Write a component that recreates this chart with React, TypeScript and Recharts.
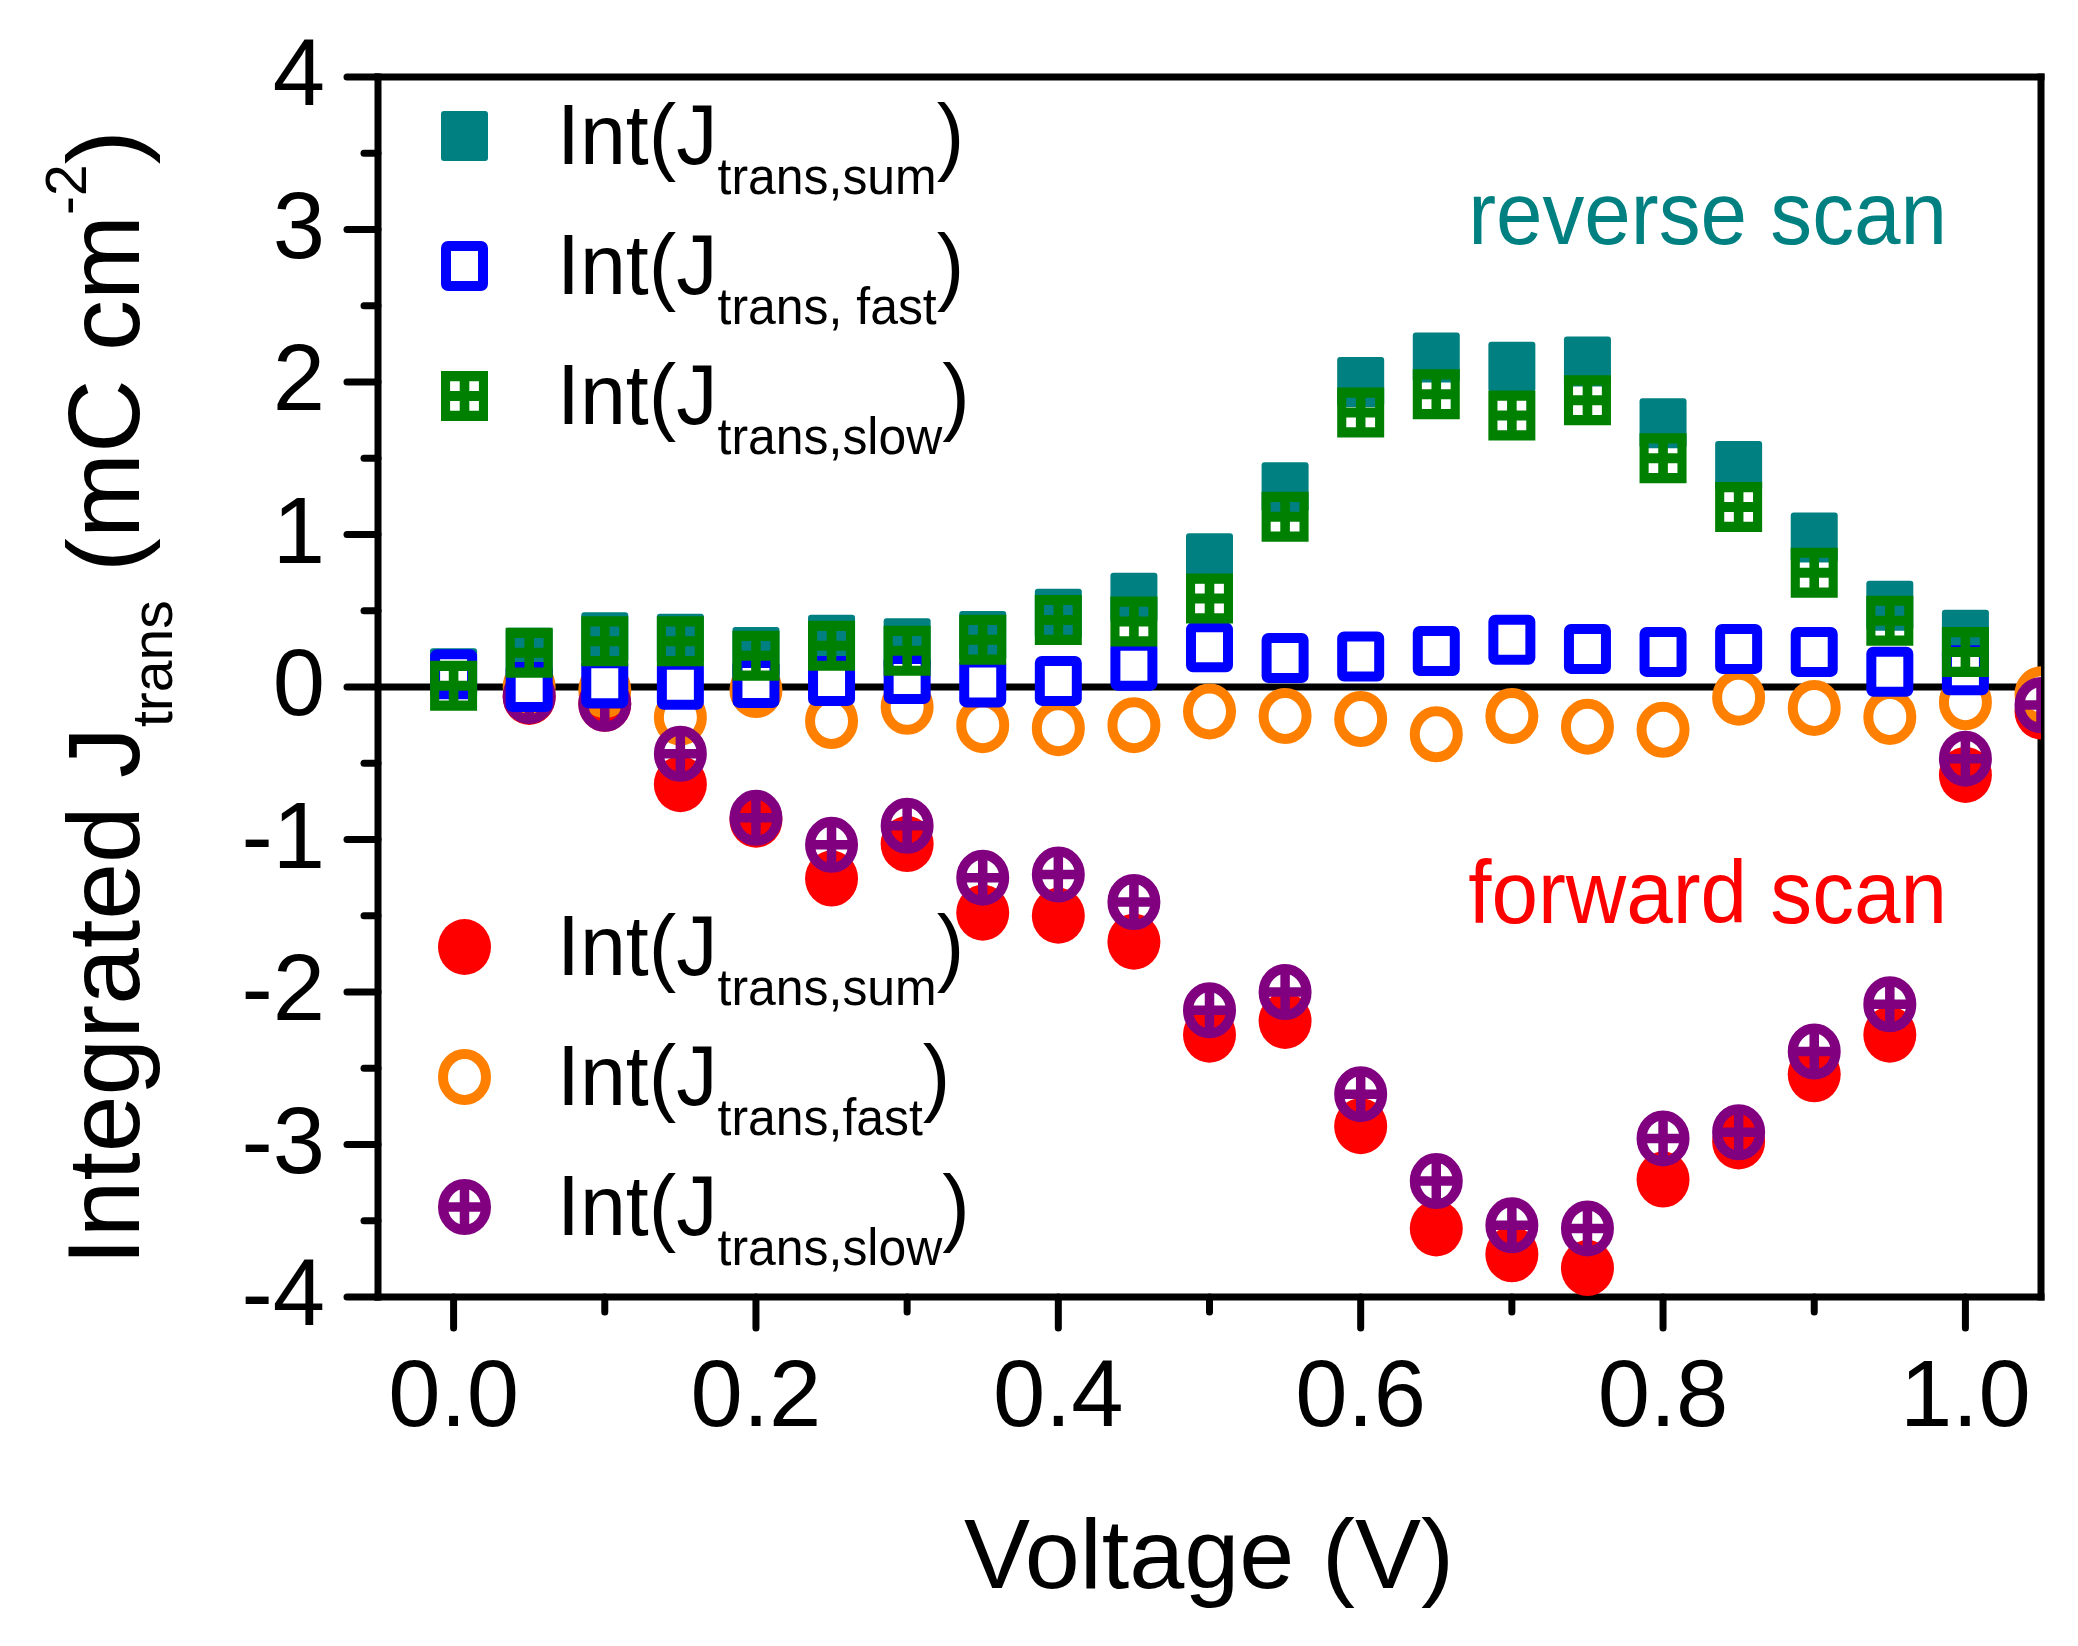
import React from 'react';
import { ScatterChart, Scatter, XAxis, YAxis, ReferenceLine, Customized } from 'recharts';

const FONT = "'Liberation Sans', Arial, Helvetica, sans-serif";

// ---------- data ----------
const reverseVoltage = [0, 0.05, 0.1, 0.15, 0.2, 0.25, 0.3, 0.35, 0.4, 0.45, 0.5, 0.55, 0.6, 0.65, 0.7, 0.75, 0.8, 0.85, 0.9, 0.95, 1.0];
const reverseSum = [0.09, 0.225, 0.327, 0.316, 0.23, 0.31, 0.287, 0.334, 0.48, 0.586, 0.844, 1.31, 2.0, 2.16, 2.1, 2.135, 1.73, 1.45, 0.98, 0.532, 0.342];
const reverseFast = [0.084, 0.0, 0.025, 0.015, 0.026, 0.04, 0.052, 0.03, 0.04, 0.14, 0.26, 0.19, 0.2, 0.236, 0.31, 0.25, 0.23, 0.25, 0.23, 0.1, 0.11];
const reverseSlow = [0.008, 0.225, 0.3, 0.3, 0.205, 0.27, 0.237, 0.31, 0.44, 0.43, 0.58, 1.116, 1.8, 1.92, 1.78, 1.88, 1.5, 1.18, 0.75, 0.435, 0.23];

const forwardVoltage = [0.05, 0.1, 0.15, 0.2, 0.25, 0.3, 0.35, 0.4, 0.45, 0.5, 0.55, 0.6, 0.65, 0.7, 0.75, 0.8, 0.85, 0.9, 0.95, 1.0, 1.05];
const forwardSum = [-0.065, -0.11, -0.637, -0.87, -1.256, -1.03, -1.48, -1.5, -1.67, -2.28, -2.19, -2.88, -3.55, -3.72, -3.81, -3.23, -2.98, -2.54, -2.28, -0.577, -0.16];
const forwardFast = [0.0, -0.02, -0.2, -0.02, -0.223, -0.13, -0.25, -0.27, -0.25, -0.16, -0.19, -0.21, -0.31, -0.19, -0.26, -0.28, -0.07, -0.137, -0.196, -0.1, -0.048];
const forwardSlow = [-0.06, -0.11, -0.438, -0.858, -1.035, -0.91, -1.25, -1.23, -1.41, -2.12, -2.0, -2.67, -3.24, -3.53, -3.55, -2.96, -2.92, -2.39, -2.08, -0.47, -0.118];

const xTicks = [0, 0.1, 0.2, 0.3, 0.4, 0.5, 0.6, 0.7, 0.8, 0.9, 1.0];
const yTicks = [-4, -3.5, -3, -2.5, -2, -1.5, -1, -0.5, 0, 0.5, 1, 1.5, 2, 2.5, 3, 3.5, 4];

const reverseLegend = ['trans,sum', 'trans, fast', 'trans,slow'];
const forwardLegend = ['trans,sum', 'trans,fast', 'trans,slow'];

const mk = (xs: number[], ys: number[]) => xs.map((v, i) => ({ v, y: ys[i] }));

// ---------- marker shapes ----------
const W = 47;
const H = 50;
const TEAL = '#008080';
const BLUE = '#0000FF';
const GREEN = '#008000';
const RED = '#FF0000';
const ORANGE = '#FF8000';
const PURPLE = '#800080';

const TealSquare = ({ cx, cy }: any) => (
  <rect x={cx - W / 2} y={cy - H / 2} width={W} height={H} rx={3} fill={TEAL} />
);
const BlueSquare = ({ cx, cy }: any) => (
  <rect x={cx - W / 2 + 5} y={cy - H / 2 + 5} width={W - 10} height={H - 10} rx={2} fill="#fff" stroke={BLUE} strokeWidth={10} />
);
const GreenSquare = ({ cx, cy }: any) => {
  let d = `M${cx - W / 2},${cy - H / 2}h${W}v${H}h${-W}z`;
  const hx = [-14.4, 4.8];
  const hy = [-14.8, 5.0];
  hx.forEach((ox) => {
    hy.forEach((oy) => {
      d += `M${cx + ox},${cy + oy}h9.6v9.8h-9.6z`;
    });
  });
  return <path d={d} fill={GREEN} fillRule="evenodd" />;
};
const RedDot = ({ cx, cy }: any) => <ellipse cx={cx} cy={cy} rx={26.5} ry={28} fill={RED} />;
const OrangeRing = ({ cx, cy }: any) => (
  <ellipse cx={cx} cy={cy} rx={21.5} ry={23} fill="#fff" stroke={ORANGE} strokeWidth={10} />
);
const PurpleCross = ({ cx, cy }: any) => (
  <g>
    <ellipse cx={cx} cy={cy} rx={21.5} ry={23} fill="none" stroke={PURPLE} strokeWidth={10} />
    <line x1={cx} x2={cx} y1={cy - 23} y2={cy + 23} stroke={PURPLE} strokeWidth={9.5} />
    <line x1={cx - 21.5} x2={cx + 21.5} y1={cy} y2={cy} stroke={PURPLE} strokeWidth={9.5} />
  </g>
);

// ---------- ticks ----------
const PLOT_LEFT = 378;
const PLOT_BOTTOM = 1297;

const YTick = (props: any) => {
  const { y, payload } = props;
  const x = PLOT_LEFT;
  const v = payload.value;
  const major = Math.abs(v - Math.round(v)) < 1e-6;
  const len = major ? 31 : 14;
  return (
    <g>
      <line x1={x - len} x2={x} y1={y} y2={y} stroke="#000" strokeWidth={7} strokeLinecap="round" />
      {major && (
        <text x={x - 53} y={y + 28} textAnchor="end" fontSize={94} fontFamily={FONT} fill="#000">
          {String(Math.round(v))}
        </text>
      )}
    </g>
  );
};

const XTick = (props: any) => {
  const { x, payload } = props;
  const y = PLOT_BOTTOM;
  const v = payload.value;
  const major = Math.round(v * 10) % 2 === 0;
  const len = major ? 31 : 15;
  return (
    <g>
      <line x1={x} x2={x} y1={y} y2={y + len} stroke="#000" strokeWidth={7} strokeLinecap="round" />
      {major && (
        <text x={x} y={y + 129} textAnchor="middle" fontSize={94} fontFamily={FONT} fill="#000">
          {v.toFixed(1)}
        </text>
      )}
    </g>
  );
};

// ---------- legend & labels ----------
const LegendRow = ({ base, sub, Marker }: any) => (
  <g>
    <Marker cx={464.5} cy={base - 28} />
    <g transform={`translate(557,${base}) scale(0.96,1)`}>
      <text x={0} y={0} fontSize={86} fontFamily={FONT} fill="#000">
        Int(J
        <tspan fontSize={52} dy={30}>{sub}</tspan>
        <tspan fontSize={86} dy={-30}>)</tspan>
      </text>
    </g>
  </g>
);

const Overlay = () => (
  <g>
    <LegendRow base={164} sub={reverseLegend[0]} Marker={TealSquare} />
    <LegendRow base={294} sub={reverseLegend[1]} Marker={BlueSquare} />
    <LegendRow base={424} sub={reverseLegend[2]} Marker={GreenSquare} />
    <LegendRow base={975} sub={forwardLegend[0]} Marker={RedDot} />
    <LegendRow base={1105} sub={forwardLegend[1]} Marker={OrangeRing} />
    <LegendRow base={1235} sub={forwardLegend[2]} Marker={PurpleCross} />
    <g transform="translate(1947,244) scale(0.94,1)">
      <text x={0} y={0} textAnchor="end" fontSize={89} fontFamily={FONT} fill={TEAL}>reverse scan</text>
    </g>
    <g transform="translate(1947,923) scale(0.94,1)">
      <text x={0} y={0} textAnchor="end" fontSize={89} fontFamily={FONT} fill={RED}>forward scan</text>
    </g>
    <text x={1209} y={1588} textAnchor="middle" fontSize={99} fontFamily={FONT} fill="#000">Voltage (V)</text>
    <text transform="translate(139,698) rotate(-90)" x={0} y={0} textAnchor="middle" fontSize={102} fontFamily={FONT} fill="#000">
      Integrated J
      <tspan fontSize={57} dy={33}>trans</tspan>
      <tspan fontSize={102} dy={-33}>{' (mC cm'}</tspan>
      <tspan fontSize={57} dy={-53}>-2</tspan>
      <tspan fontSize={102} dy={53}>)</tspan>
    </text>
  </g>
);

export default function App() {
  return (
    <div style={{ position: 'absolute', left: 0, top: 0, width: 2078, height: 1646, background: '#fff' }}>
      <ScatterChart width={2078} height={1646} margin={{ top: 77, right: 37, bottom: 249, left: 278 }}>
        <XAxis
          type="number"
          dataKey="v"
          domain={[-0.05, 1.05]}
          allowDataOverflow
          ticks={xTicks}
          interval={0}
          height={100}
          tickSize={0}
          tickMargin={0}
          tickLine={false}
          axisLine={{ stroke: '#000', strokeWidth: 7, strokeLinecap: 'square' }}
          tick={<XTick />}
        />
        <YAxis
          type="number"
          dataKey="y"
          domain={[-4, 4]}
          allowDataOverflow
          ticks={yTicks}
          interval={0}
          width={100}
          tickSize={0}
          tickMargin={0}
          tickLine={false}
          axisLine={{ stroke: '#000', strokeWidth: 7, strokeLinecap: 'square' }}
          tick={<YTick />}
        />
        <ReferenceLine y={0} stroke="#000" strokeWidth={7} />
        <ReferenceLine y={4} stroke="#000" strokeWidth={7} strokeLinecap="square" />
        <ReferenceLine x={1.05} stroke="#000" strokeWidth={7} strokeLinecap="square" />
        <Scatter name="fwd sum" data={mk(forwardVoltage, forwardSum)} shape={RedDot} isAnimationActive={false} />
        <Scatter name="fwd fast" data={mk(forwardVoltage, forwardFast)} shape={OrangeRing} isAnimationActive={false} />
        <Scatter name="fwd slow" data={mk(forwardVoltage, forwardSlow)} shape={PurpleCross} isAnimationActive={false} />
        <Scatter name="rev sum" data={mk(reverseVoltage, reverseSum)} shape={TealSquare} isAnimationActive={false} />
        <Scatter name="rev fast" data={mk(reverseVoltage, reverseFast)} shape={BlueSquare} isAnimationActive={false} />
        <Scatter name="rev slow" data={mk(reverseVoltage, reverseSlow)} shape={GreenSquare} isAnimationActive={false} />
        <Customized component={Overlay} />
      </ScatterChart>
    </div>
  );
}
